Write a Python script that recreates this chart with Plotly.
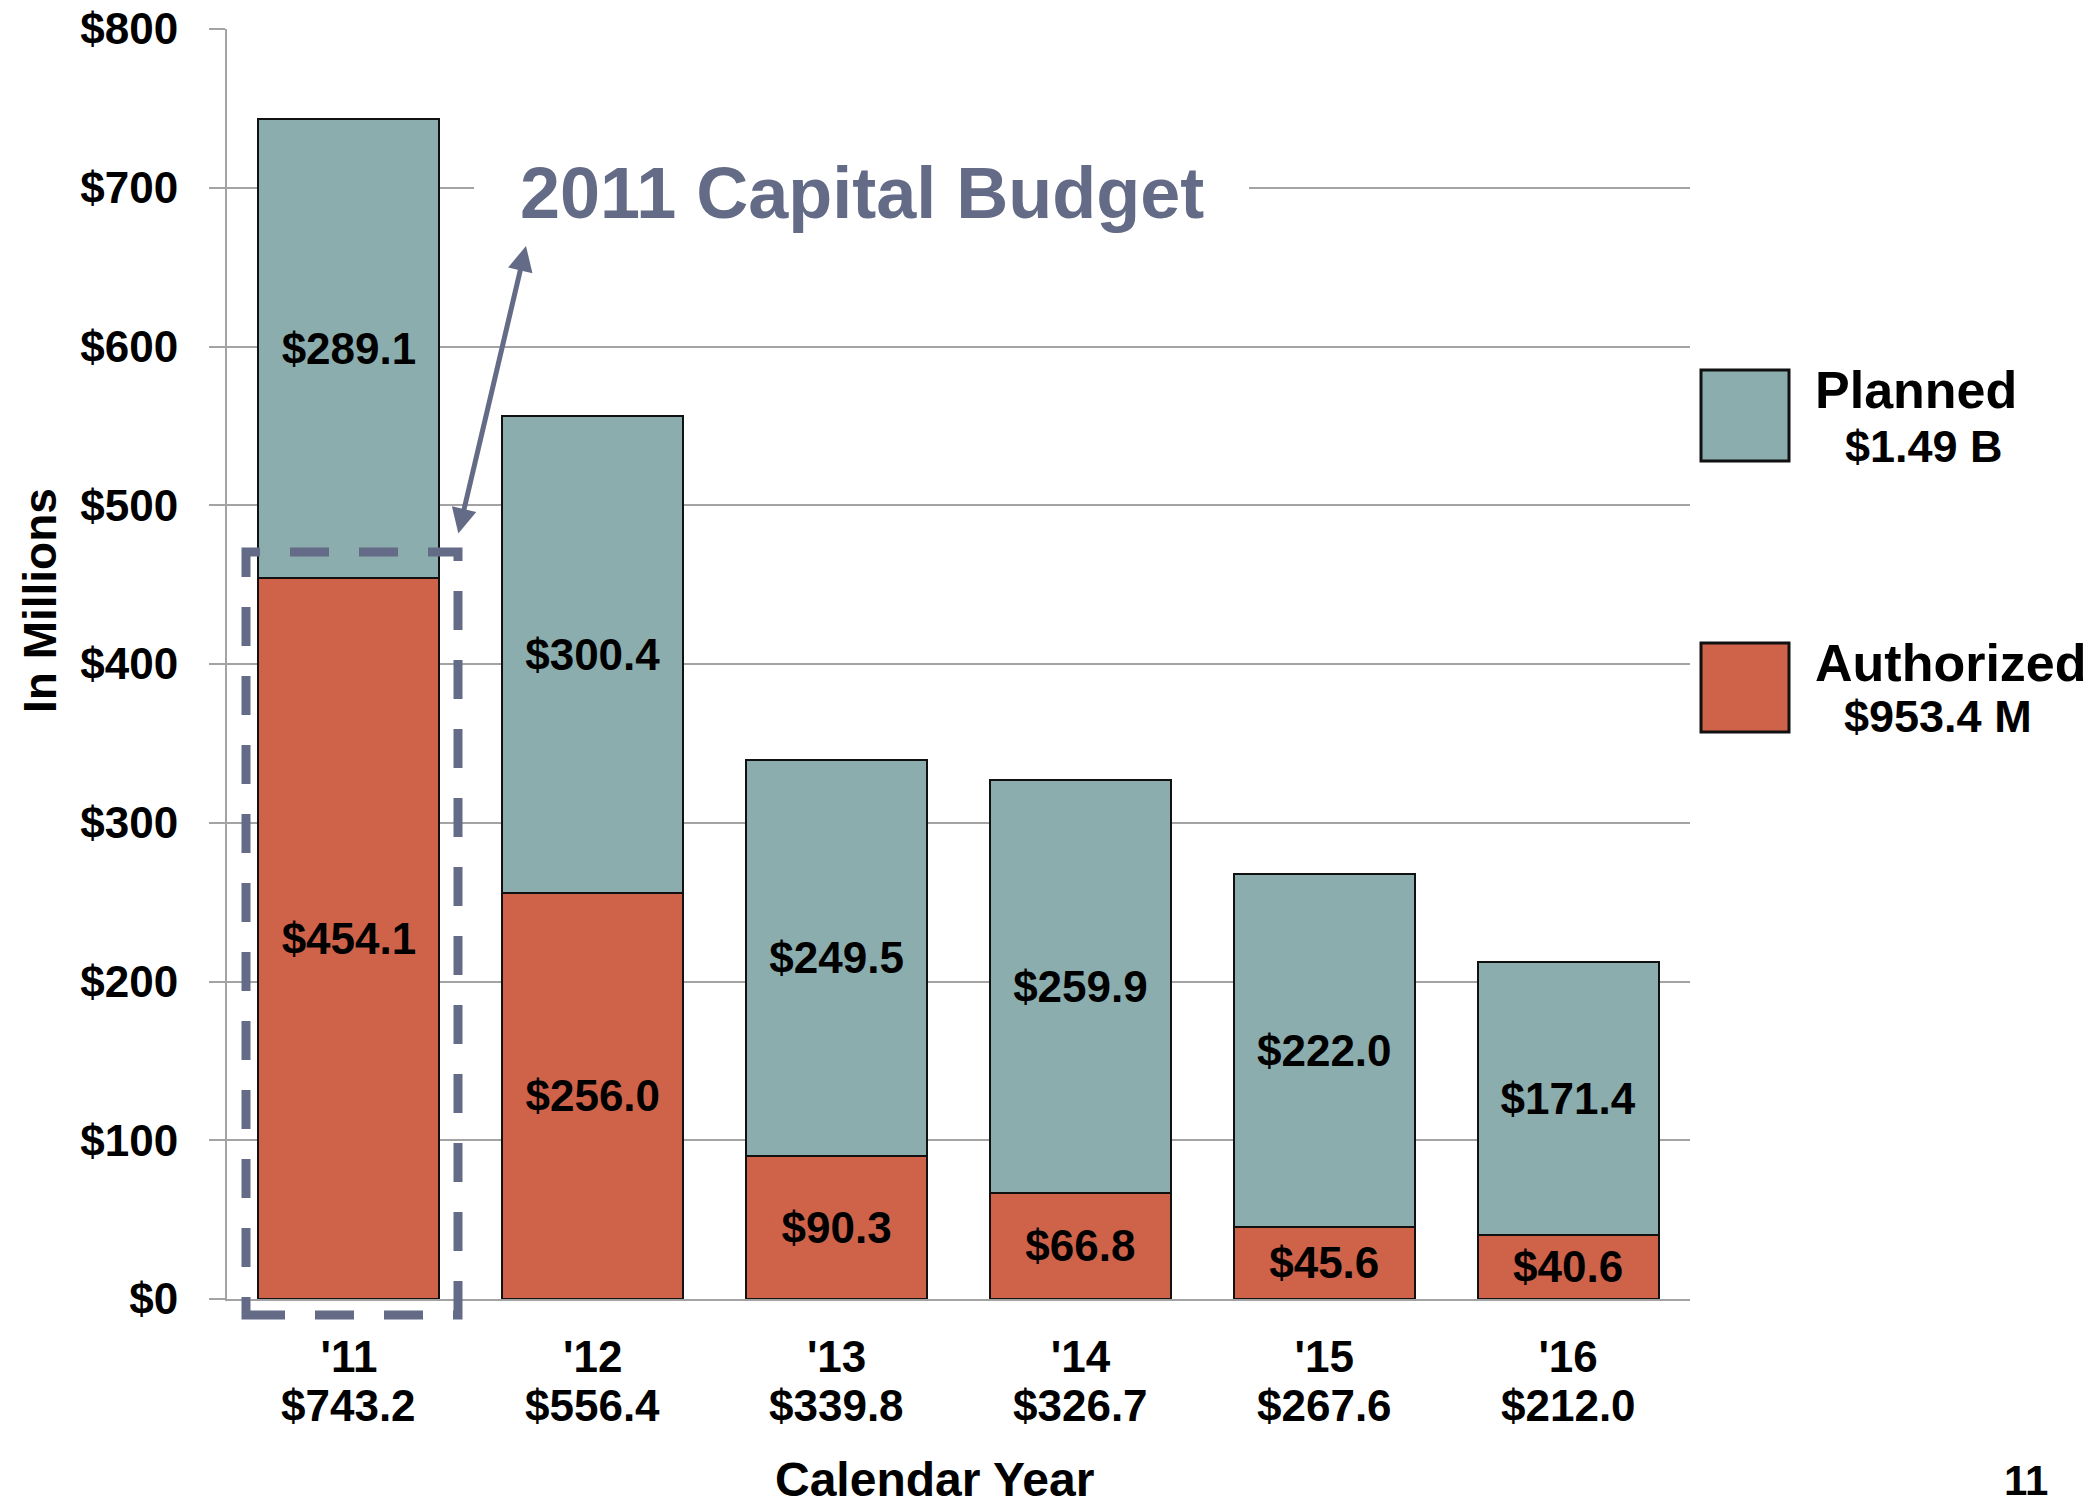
import plotly.graph_objects as go

# ---- data ----
years = ["'11", "'12", "'13", "'14", "'15", "'16"]
authorized = [454.1, 256.0, 90.3, 66.8, 45.6, 40.6]
planned = [289.1, 300.4, 249.5, 259.9, 222.0, 171.4]
totals = ["$743.2", "$556.4", "$339.8", "$326.7", "$267.6", "$212.0"]
y_ticks = [0, 100, 200, 300, 400, 500, 600, 700, 800]
legend_names = ["Planned", "Authorized"]
legend_totals = ["$1.49 B", "$953.4 M"]

FONT = "Liberation Sans, Arial, sans-serif"
C_PLAN = "#8BADAD"
C_AUTH = "#CF634A"
C_SLATE = "#646B86"
C_GRID = "#A3A3A3"

x_idx = list(range(len(years)))

fig = go.Figure()
fig.add_trace(go.Bar(
    x=x_idx, y=authorized, name=legend_names[1],
    marker=dict(color=C_AUTH, line=dict(color="#111111", width=2)),
    width=0.742, texttemplate="$%{y:.1f}", textposition="inside",
    insidetextanchor="middle", constraintext="none", textangle=0,
    textfont=dict(family=FONT, size=44, color="black", weight="bold"),
    showlegend=False,
))
fig.add_trace(go.Bar(
    x=x_idx, y=planned, name=legend_names[0],
    marker=dict(color=C_PLAN, line=dict(color="#111111", width=2)),
    width=0.742, texttemplate="$%{y:.1f}", textposition="inside",
    insidetextanchor="middle", constraintext="none", textangle=0,
    textfont=dict(family=FONT, size=44, color="black", weight="bold"),
    showlegend=False,
))

W, H = 2095, 1505
L, R, T, B = 227, 405, 29, 206
pw = W - L - R
ph = H - T - B


def px(xp):
    return (xp - L) / pw


def py(yp):
    return (H - B - yp) / ph


fig.update_layout(
    width=W, height=H, barmode="stack",
    margin=dict(l=L, r=R, t=T, b=B, pad=0, autoexpand=False),
    paper_bgcolor="white", plot_bgcolor="white",
    font=dict(family=FONT, color="black"),
)
fig.update_xaxes(
    range=[-0.5, len(years) - 0.5], tickmode="array", tickvals=x_idx, ticktext=years,
    tickfont=dict(family=FONT, size=44, color="black", weight="bold"),
    showgrid=False, showline=True, linecolor=C_GRID, linewidth=2,
    ticks="", ticklabelstandoff=18, zeroline=False, automargin=False,
)
fig.update_yaxes(
    range=[0, 800], tickmode="array", tickvals=y_ticks,
    ticktext=[f"${v}" for v in y_ticks],
    tickfont=dict(family=FONT, size=44, color="black", weight="bold"),
    showgrid=True, gridcolor=C_GRID, gridwidth=2,
    showline=True, linecolor=C_GRID, linewidth=2,
    ticks="outside", ticklen=16, tickcolor=C_GRID, tickwidth=2,
    ticklabelstandoff=22, zeroline=False, automargin=False,
)

shapes = []
# white gap behind the title on the $700 gridline
shapes.append(dict(type="rect", xref="paper", yref="paper",
                   x0=px(474), x1=px(1249), y0=py(203), y1=py(172),
                   fillcolor="white", line=dict(width=0), layer="above"))
# dashed box around 2011
shapes.append(dict(type="rect", xref="paper", yref="paper",
                   x0=px(246), x1=px(458), y0=py(1315), y1=py(552),
                   line=dict(color=C_SLATE, width=9, dash="39px,30px"),
                   fillcolor="rgba(0,0,0,0)", layer="above"))
# legend swatches
shapes.append(dict(type="rect", xref="paper", yref="paper",
                   x0=px(1701), x1=px(1789), y0=py(461), y1=py(370),
                   fillcolor=C_PLAN, line=dict(color="#111111", width=3)))
shapes.append(dict(type="rect", xref="paper", yref="paper",
                   x0=px(1701), x1=px(1789), y0=py(732), y1=py(643),
                   fillcolor=C_AUTH, line=dict(color="#111111", width=3)))
fig.update_layout(shapes=shapes)

ann = []
# x totals under the year labels
for i, t in enumerate(totals):
    ann.append(dict(x=x_idx[i], y=py(1405), xref="x", yref="paper", text=t,
                    showarrow=False, xanchor="center", yanchor="middle",
                    font=dict(family=FONT, size=44, color="black", weight="bold")))
# title
ann.append(dict(x=px(862), y=py(193), xref="paper", yref="paper",
                text="2011 Capital Budget", showarrow=False,
                xanchor="center", yanchor="middle",
                font=dict(family=FONT, size=72, color=C_SLATE, weight="bold")))
# double arrow
ann.append(dict(x=px(526), y=py(246), xref="paper", yref="paper", text="",
                showarrow=True, ax=458 - 526, ay=535 - 246,
                arrowhead=2, startarrowhead=2, arrowside="end+start",
                arrowsize=1, startarrowsize=1, arrowwidth=5, arrowcolor=C_SLATE,
                standoff=0, startstandoff=0))
# axis titles
ann.append(dict(x=px(40), y=py(601), xref="paper", yref="paper", text="In Millions",
                textangle=-90, showarrow=False, xanchor="center", yanchor="middle",
                font=dict(family=FONT, size=46, color="black", weight="bold")))
ann.append(dict(x=px(934), y=py(1479), xref="paper", yref="paper", text="Calendar Year",
                showarrow=False, xanchor="center", yanchor="middle",
                font=dict(family=FONT, size=48, color="black", weight="bold")))
# legend text
ann.append(dict(x=px(1813), y=py(390), xref="paper", yref="paper", text=legend_names[0],
                showarrow=False, xanchor="left", yanchor="middle",
                font=dict(family=FONT, size=52, color="black", weight="bold")))
ann.append(dict(x=px(1924), y=py(446), xref="paper", yref="paper", text=legend_totals[0],
                showarrow=False, xanchor="center", yanchor="middle",
                font=dict(family=FONT, size=45, color="black", weight="bold")))
ann.append(dict(x=px(1813), y=py(663), xref="paper", yref="paper", text=legend_names[1],
                showarrow=False, xanchor="left", yanchor="middle",
                font=dict(family=FONT, size=52, color="black", weight="bold")))
ann.append(dict(x=px(1938), y=py(716), xref="paper", yref="paper", text=legend_totals[1],
                showarrow=False, xanchor="center", yanchor="middle",
                font=dict(family=FONT, size=45, color="black", weight="bold")))
# page number
ann.append(dict(x=px(2026), y=py(1480), xref="paper", yref="paper", text="11",
                showarrow=False, xanchor="center", yanchor="middle",
                font=dict(family=FONT, size=42, color="black", weight="bold")))
fig.update_layout(annotations=ann)

fig.write_html(
    "out.html",
    config={"displayModeBar": False},
    post_script="document.body.style.margin='0';document.body.style.overflow='hidden';",
)
